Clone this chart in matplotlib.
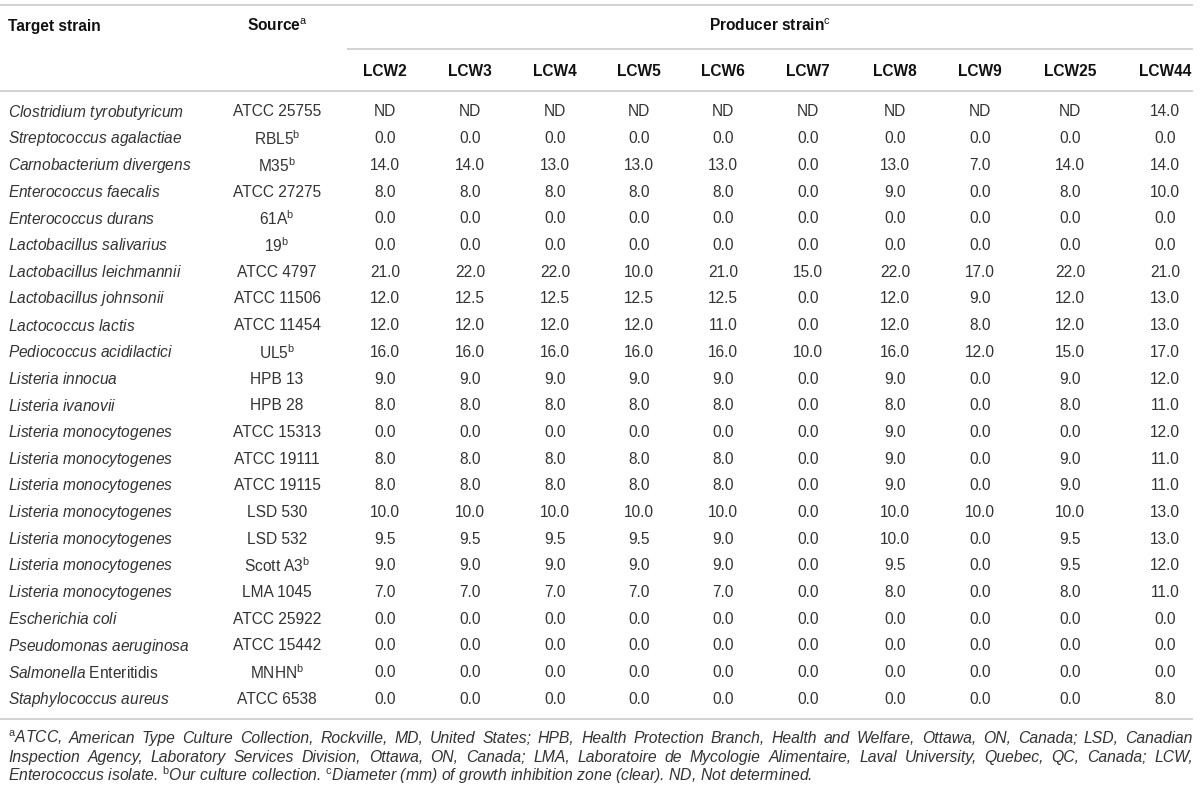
import matplotlib
matplotlib.use("Agg")
import matplotlib.pyplot as plt
import numpy as np

plt.rcParams['font.family'] = ['Liberation Sans', 'DejaVu Sans']
plt.rcParams['mathtext.fontset'] = 'custom'
plt.rcParams['mathtext.rm'] = 'Liberation Sans'
plt.rcParams['mathtext.it'] = 'Liberation Sans:italic'
plt.rcParams['mathtext.bf'] = 'Liberation Sans:bold'

ND = None

strains = [
    r'$\mathit{Clostridium\ tyrobutyricum}$',
    r'$\mathit{Streptococcus\ agalactiae}$',
    r'$\mathit{Carnobacterium\ divergens}$',
    r'$\mathit{Enterococcus\ faecalis}$',
    r'$\mathit{Enterococcus\ durans}$',
    r'$\mathit{Lactobacillus\ salivarius}$',
    r'$\mathit{Lactobacillus\ leichmannii}$',
    r'$\mathit{Lactobacillus\ johnsonii}$',
    r'$\mathit{Lactococcus\ lactis}$',
    r'$\mathit{Pediococcus\ acidilactici}$',
    r'$\mathit{Listeria\ innocua}$',
    r'$\mathit{Listeria\ ivanovii}$',
    r'$\mathit{Listeria\ monocytogenes}$',
    r'$\mathit{Listeria\ monocytogenes}$',
    r'$\mathit{Listeria\ monocytogenes}$',
    r'$\mathit{Listeria\ monocytogenes}$',
    r'$\mathit{Listeria\ monocytogenes}$',
    r'$\mathit{Listeria\ monocytogenes}$',
    r'$\mathit{Listeria\ monocytogenes}$',
    r'$\mathit{Escherichia\ coli}$',
    r'$\mathit{Pseudomonas\ aeruginosa}$',
    r'$\mathit{Salmonella}$ Enteritidis',
    r'$\mathit{Staphylococcus\ aureus}$',
]

sources = [
    'ATCC 25755', r'RBL5$^{\mathrm{b}}$', r'M35$^{\mathrm{b}}$', 'ATCC 27275',
    r'61A$^{\mathrm{b}}$', r'19$^{\mathrm{b}}$', 'ATCC 4797', 'ATCC 11506',
    'ATCC 11454', r'UL5$^{\mathrm{b}}$', 'HPB 13', 'HPB 28', 'ATCC 15313',
    'ATCC 19111', 'ATCC 19115', 'LSD 530', 'LSD 532', r'Scott A3$^{\mathrm{b}}$',
    'LMA 1045', 'ATCC 25922', 'ATCC 15442', r'MNHN$^{\mathrm{b}}$', 'ATCC 6538',
]

producers = ['LCW2', 'LCW3', 'LCW4', 'LCW5', 'LCW6', 'LCW7', 'LCW8', 'LCW9', 'LCW25', 'LCW44']

lcw2 = [ND, 0, 14, 8, 0, 0, 21, 12, 12, 16, 9, 8, 0, 8, 8, 10, 9.5, 9, 7, 0, 0, 0, 0]
lcw3 = [ND, 0, 14, 8, 0, 0, 22, 12.5, 12, 16, 9, 8, 0, 8, 8, 10, 9.5, 9, 7, 0, 0, 0, 0]
lcw4 = [ND, 0, 13, 8, 0, 0, 22, 12.5, 12, 16, 9, 8, 0, 8, 8, 10, 9.5, 9, 7, 0, 0, 0, 0]
lcw5 = [ND, 0, 13, 8, 0, 0, 10, 12.5, 12, 16, 9, 8, 0, 8, 8, 10, 9.5, 9, 7, 0, 0, 0, 0]
lcw6 = [ND, 0, 13, 8, 0, 0, 21, 12.5, 11, 16, 9, 8, 0, 8, 8, 10, 9.0, 9, 7, 0, 0, 0, 0]
lcw7 = [ND, 0, 0, 0, 0, 0, 15, 0, 0, 10, 0, 0, 0, 0, 0, 0, 0, 0, 0, 0, 0, 0, 0]
lcw8 = [ND, 0, 13, 9, 0, 0, 22, 12, 12, 16, 9, 8, 9, 9, 9, 10, 10, 9.5, 8, 0, 0, 0, 0]
lcw9 = [ND, 0, 7, 0, 0, 0, 17, 9, 8, 12, 0, 0, 0, 0, 0, 10, 0, 0, 0, 0, 0, 0, 0]
lcw25 = [ND, 0, 14, 8, 0, 0, 22, 12, 12, 15, 9, 8, 0, 9, 9, 10, 9.5, 9.5, 8, 0, 0, 0, 0]
lcw44 = [14, 0, 14, 10, 0, 0, 21, 13, 13, 17, 12, 11, 12, 11, 11, 13, 13, 12, 11, 0, 0, 0, 8]
columns = [lcw2, lcw3, lcw4, lcw5, lcw6, lcw7, lcw8, lcw9, lcw25, lcw44]

footnote = [
    r"$^{\mathrm{a}}$ATCC, American Type Culture Collection, Rockville, MD, United States; HPB, Health Protection Branch, Health and Welfare, Ottawa, ON, Canada; LSD, Canadian",
    r"Inspection Agency, Laboratory Services Division, Ottawa, ON, Canada; LMA, Laboratoire de Mycologie Alimentaire, Laval University, Quebec, QC, Canada; LCW,",
    r"Enterococcus isolate. $^{\mathrm{b}}$Our culture collection. $^{\mathrm{c}}$Diameter (mm) of growth inhibition zone (clear). ND, Not determined.",
]

# layout in pixels
W, H = 1200, 793
col_x = [385, 470, 555, 639, 723, 808, 895, 980, 1070, 1165]
src_x = 277
row0, row_step = 112, 26.7
body_color = '#333333'
line_color = '#cfcfcf'
fs = 11.2

fig = plt.figure(figsize=(W / 100, H / 100), dpi=100)
ax = fig.add_axes([0, 0, 1, 1])
ax.set_xlim(0, W)
ax.set_ylim(H, 0)
ax.axis('off')

# rules
for y, x0, x1 in [(5, 0, 1193), (49, 347, 1193), (91, 0, 1193), (719, 0, 1193)]:
    ax.plot([x0, x1], [y, y], color=line_color, lw=1.3, solid_capstyle='butt')

# headers
ax.text(8, 26, 'Target strain', fontsize=fs, fontweight='bold', va='center', ha='left', color='#111111')
ax.text(src_x, 26, r'Source$^{\mathrm{a}}$', fontsize=fs, fontweight='bold', va='center', ha='center', color='#111111')
ax.text(770, 26, r'Producer strain$^{\mathrm{c}}$', fontsize=fs, fontweight='bold', va='center', ha='center', color='#111111')
for x, p in zip(col_x, producers):
    ax.text(x, 72, p, fontsize=fs, fontweight='bold', va='center', ha='center', color='#111111')

# body
for i, (s, src) in enumerate(zip(strains, sources)):
    y = row0 + i * row_step
    ax.text(8, y, s, fontsize=fs, va='center', ha='left', color=body_color)
    ax.text(src_x, y, src, fontsize=fs, va='center', ha='center', color=body_color)
    for x, col in zip(col_x, columns):
        v = col[i]
        label = 'ND' if v is None else f'{v:.1f}'
        ax.text(x, y, label, fontsize=fs, va='center', ha='center', color=body_color)

# footnote, first two lines justified
fig.canvas.draw()
renderer = fig.canvas.get_renderer()
left, right = 8, 1193
fn_fs = 11.3
for k, line in enumerate(footnote):
    y = 743 + k * 19
    if k == len(footnote) - 1:
        ax.text(left, y, line, fontsize=fn_fs, style='italic', va='baseline', ha='left', color=body_color)
        continue
    words = line.split(' ')
    arts = [ax.text(0, y, w, fontsize=fn_fs, style='italic', va='baseline', ha='left', color=body_color) for w in words]
    widths = [a.get_window_extent(renderer).width for a in arts]
    gap = (right - left - sum(widths)) / (len(words) - 1)
    x = left
    for a, w in zip(arts, widths):
        a.set_x(x)
        x += w + gap

fig.savefig('out.png', dpi=100)
